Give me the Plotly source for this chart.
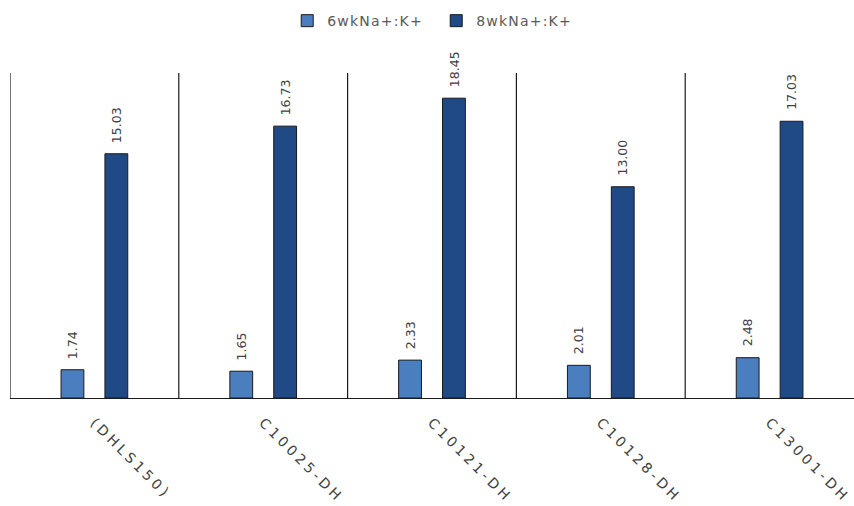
import plotly.graph_objects as go

# Sodium:potassium ratio per line at 6 and 8 weeks
lines = ["(DHLS150)", "C10025-DH", "C10121-DH", "C10128-DH", "C13001-DH"]
ratio_6wk = [1.74, 1.65, 2.33, 2.01, 2.48]
ratio_8wk = [15.03, 16.73, 18.45, 13.00, 17.03]

series = [
    ("6wkNa+:K+", ratio_6wk, "#4A7EBF"),
    ("8wkNa+:K+", ratio_8wk, "#1F4A85"),
]

fig = go.Figure()
for name, vals, color in series:
    fig.add_trace(go.Bar(
        name=name, x=lines, y=vals,
        marker=dict(color=color, line=dict(color="#1a1a1a", width=1)),
        hoverinfo="x+y",
    ))

# value labels, rotated, sitting above each bar
label_font = dict(family="DejaVu Sans", size=12.5, color="#404040")
for k, (name, vals, color) in enumerate(series):
    shift = -22 if k == 0 else 22
    for cat, v in zip(lines, vals):
        fig.add_annotation(
            x=cat, y=v, xref="x", yref="y", text=f"{v:.2f}",
            textangle=-90, showarrow=False, yanchor="bottom",
            xshift=shift, yshift=9, font=label_font,
        )

# vertical separators between groups
for i in range(len(lines)):
    fig.add_shape(type="line", xref="x", yref="y",
                  x0=i - 0.5, x1=i - 0.5, y0=0, y1=20,
                  line=dict(color="#1a1a1a", width=1.2))

fig.update_layout(
    width=854, height=506,
    margin=dict(l=10, r=0, t=73, b=108),
    paper_bgcolor="white", plot_bgcolor="white",
    barmode="group", bargap=0.48, bargroupgap=0.48,
    showlegend=True,
    legend=dict(orientation="h", x=0.505, xanchor="center", y=0.99,
                yref="container", yanchor="top",
                font=dict(family="DejaVu Sans", size=14, color="#595959"),
                entrywidth=104, entrywidthmode="pixels", itemwidth=30),
    xaxis=dict(
        range=[-0.5, 4.5], showgrid=False, ticks="",
        showline=True, linecolor="#1a1a1a", linewidth=1.2,
        tickangle=45, ticklabelstandoff=10,
        tickfont=dict(family="DejaVu Sans", size=14, color="#404040"),
    ),
    yaxis=dict(range=[0, 20], showgrid=False, showticklabels=False,
               zeroline=False, showline=False, ticks=""),
)

spacing_css = (
    "var s=document.createElement('style');"
    "s.textContent='.xtick text{letter-spacing:3.5px}"
    ".legendtext{letter-spacing:1.2px}';"
    "document.head.appendChild(s);"
)
fig.write_html("out.html", post_script=spacing_css)
